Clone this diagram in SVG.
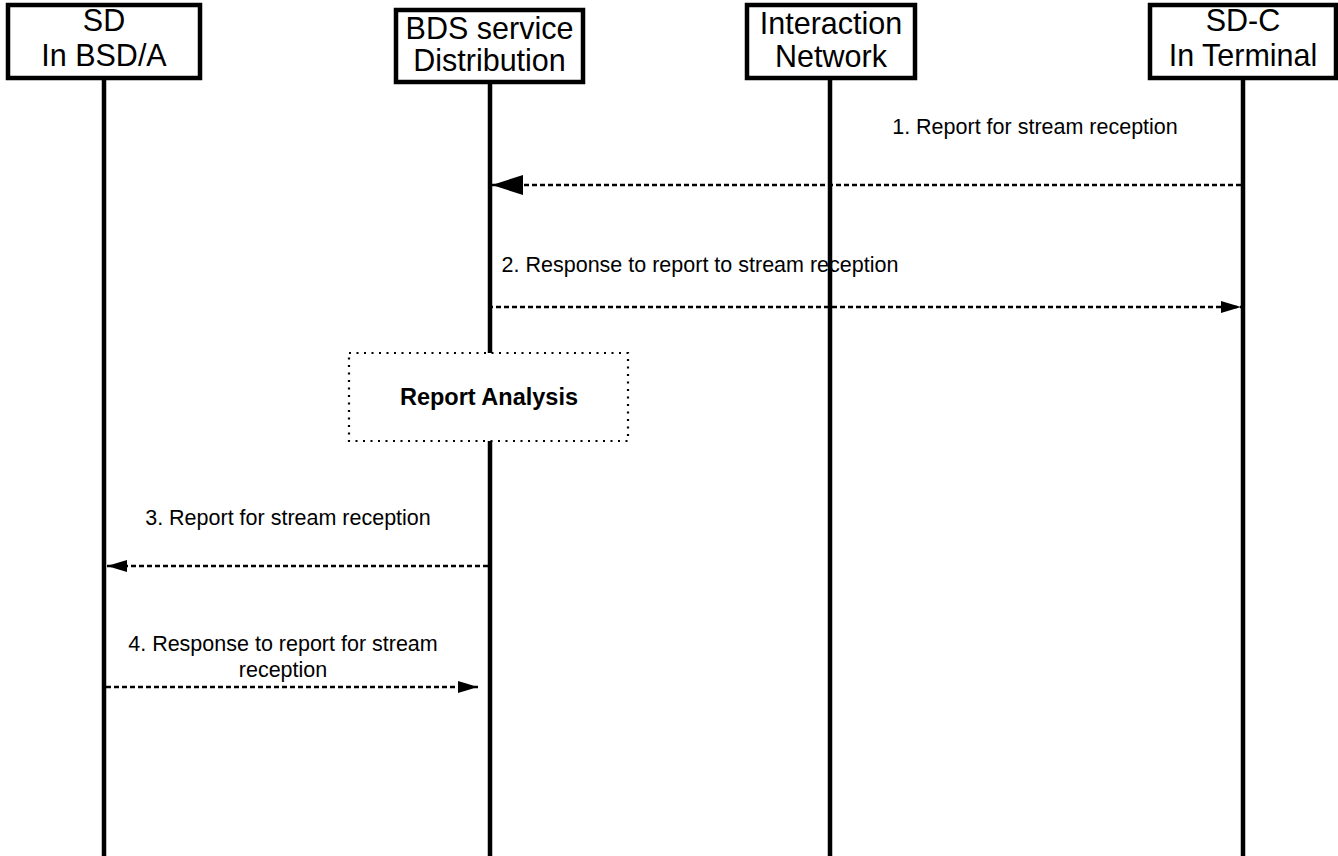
<svg xmlns="http://www.w3.org/2000/svg" width="1338" height="856" viewBox="0 0 1338 856">
<style>
.box{fill:#fff;stroke:#000;stroke-width:4.5}
.life{stroke:#000;stroke-width:4.5;fill:none}
.bt{font-family:"Liberation Sans",Arial,sans-serif;font-size:30.5px;fill:#000;text-anchor:middle}
.lbl{font-family:"Liberation Sans",Arial,sans-serif;font-size:21.5px;fill:#000;text-anchor:middle}
.msg{stroke:#000;stroke-width:2.5;stroke-dasharray:5 3;fill:none}
.ra{fill:#fff;stroke:#000;stroke-width:2.2;stroke-dasharray:2 5.5}
</style>
<defs>
<marker id="big" markerWidth="31" markerHeight="20" refX="31" refY="10" orient="auto" markerUnits="userSpaceOnUse"><path d="M0,0 L31,10 L0,20 Z" fill="#000"/></marker>
<marker id="sm" markerWidth="20" markerHeight="12" refX="20" refY="6" orient="auto" markerUnits="userSpaceOnUse"><path d="M0,0 L20,6 L0,12 Z" fill="#000"/></marker>
</defs>
<rect width="1338" height="856" fill="#fff"/>
<g id="lifelines">
<line class="life" x1="104" y1="78" x2="104" y2="856"/>
<line class="life" x1="490" y1="82" x2="490" y2="856"/>
<line class="life" x1="830" y1="78" x2="830" y2="856"/>
<line class="life" x1="1243" y1="78" x2="1243" y2="856"/>
</g>
<g id="node-sd">
<rect class="box" x="8" y="5" width="192" height="73"/>
<text class="bt" x="104" y="31">SD</text>
<text class="bt" x="104" y="66">In BSD/A</text>
</g>
<g id="node-bds">
<rect class="box" x="396" y="10" width="187" height="72"/>
<text class="bt" x="489.5" y="39">BDS service</text>
<text class="bt" x="489.5" y="71">Distribution</text>
</g>
<g id="node-in">
<rect class="box" x="747" y="5" width="168" height="73"/>
<text class="bt" x="831" y="34">Interaction</text>
<text class="bt" x="831" y="67">Network</text>
</g>
<g id="node-sdc">
<rect class="box" x="1150" y="5" width="186" height="73"/>
<text class="bt" x="1243" y="31">SD-C</text>
<text class="bt" x="1243" y="66">In Terminal</text>
</g>
<g id="node-ra">
<rect class="ra" x="349" y="353" width="279" height="88"/>
<text x="489" y="405" font-family="'Liberation Sans',Arial,sans-serif" font-size="23.5" font-weight="bold" text-anchor="middle">Report Analysis</text>
</g>
<g id="connectors">
<line class="msg" x1="1241" y1="185" x2="492" y2="185" marker-end="url(#big)"/>
<line class="msg" x1="488" y1="307" x2="1241" y2="307" marker-end="url(#sm)"/>
<line class="msg" x1="488" y1="566" x2="107" y2="566" marker-end="url(#sm)"/>
<line class="msg" x1="106" y1="687" x2="478" y2="687" marker-end="url(#sm)"/>
<text class="lbl" x="1035" y="134">1. Report for stream reception</text>
<text class="lbl" x="700" y="272">2. Response to report to stream reception</text>
<text class="lbl" x="288" y="525">3. Report for stream reception</text>
<text class="lbl" x="283" y="651">4. Response to report for stream</text>
<text class="lbl" x="283" y="677">reception</text>
</g>
</svg>
